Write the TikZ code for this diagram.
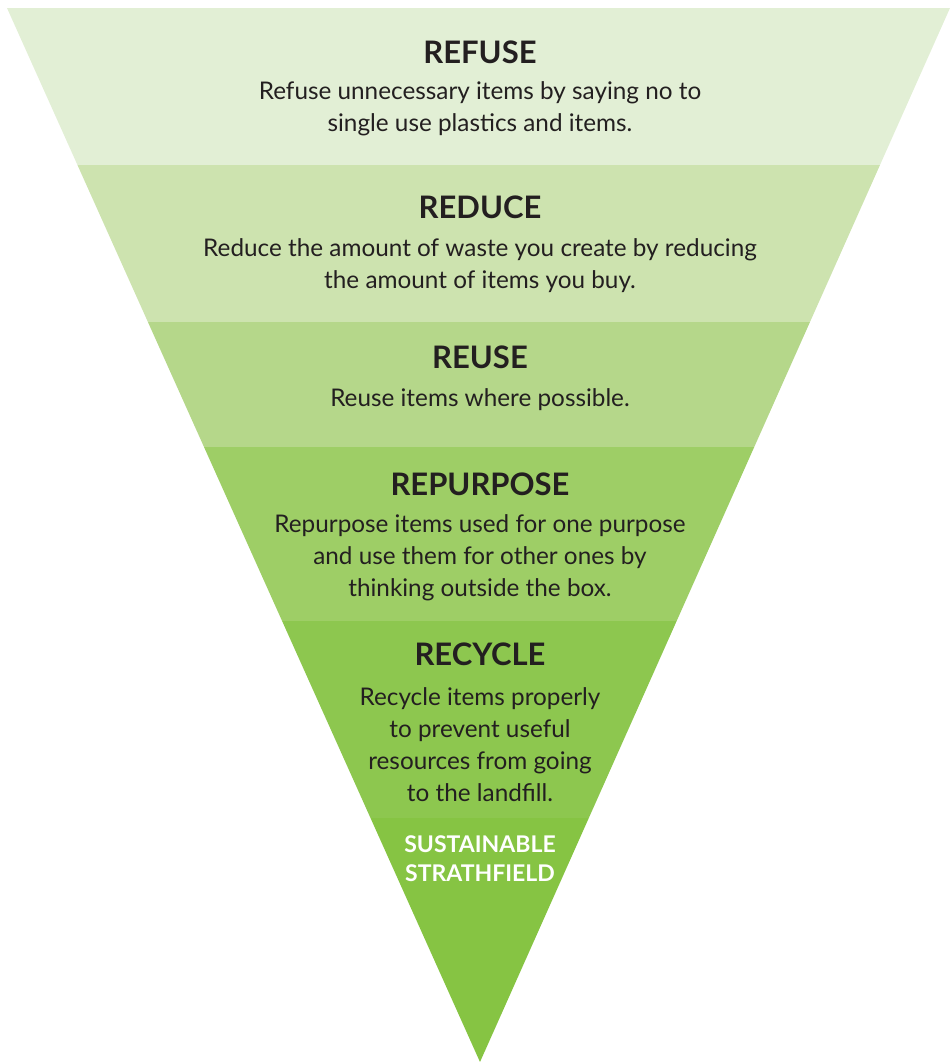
\documentclass[tikz,border=0pt]{standalone}
\usepackage{fontspec}
\setmainfont{Lato}
\definecolor{bandA}{HTML}{E2EFD5}
\definecolor{bandB}{HTML}{CDE3AF}
\definecolor{bandC}{HTML}{B5D78A}
\definecolor{bandD}{HTML}{9ECE66}
\definecolor{bandE}{HTML}{8DC74F}
\definecolor{bandF}{HTML}{86C443}
\definecolor{ink}{HTML}{231F20}
\tikzset{
  title/.style={font=\fontsize{31}{34}\selectfont\bfseries, text=ink, inner sep=0pt},
  body/.style={font=\fontsize{24.3}{32}\selectfont, text=ink, align=center, inner sep=0pt},
  brand/.style={font=\fontsize{23}{29}\selectfont\bfseries, text=white, align=center, inner sep=0pt}
}
\begin{document}
\begin{tikzpicture}[x=1pt,y=-1pt]
\useasboundingbox (0,0) rectangle (950,1062);
\begin{scope}
\clip (7,8) -- (950,8) -- (480,1062) -- cycle;
\foreach \top/\bot/\col in {8/165/bandA,165/322/bandB,322/447/bandC,447/621/bandD,621/818/bandE,818/1062/bandF}
  \fill[\col] (0,\top) rectangle (950,\bot);
\end{scope}
\node[title] (refuse) at (480,52) {REFUSE};
\node[body] (refusetxt) at (480,109) {Refuse unnecessary items by saying no to\\single use plastics and items.};
\node[title] (reduce) at (480,207) {REDUCE};
\node[body] (reducetxt) at (480,266) {Reduce the amount of waste you create by reducing\\the amount of items you buy.};
\node[title] (reuse) at (480,357) {REUSE};
\node[body] (reusetxt) at (480,400) {Reuse items where possible.};
\node[title] (repurpose) at (480,484) {REPURPOSE};
\node[body] (repurposetxt) at (480,558) {Repurpose items used for one purpose\\and use them for other ones by\\thinking outside the box.};
\node[title] (recycle) at (480,654) {RECYCLE};
\node[body] (recycletxt) at (480,745) {Recycle items properly\\to prevent useful\\resources from going\\to the landfill.};
\node[brand] (brand) at (480,859) {SUSTAINABLE\\STRATHFIELD};
\end{tikzpicture}
\end{document}
